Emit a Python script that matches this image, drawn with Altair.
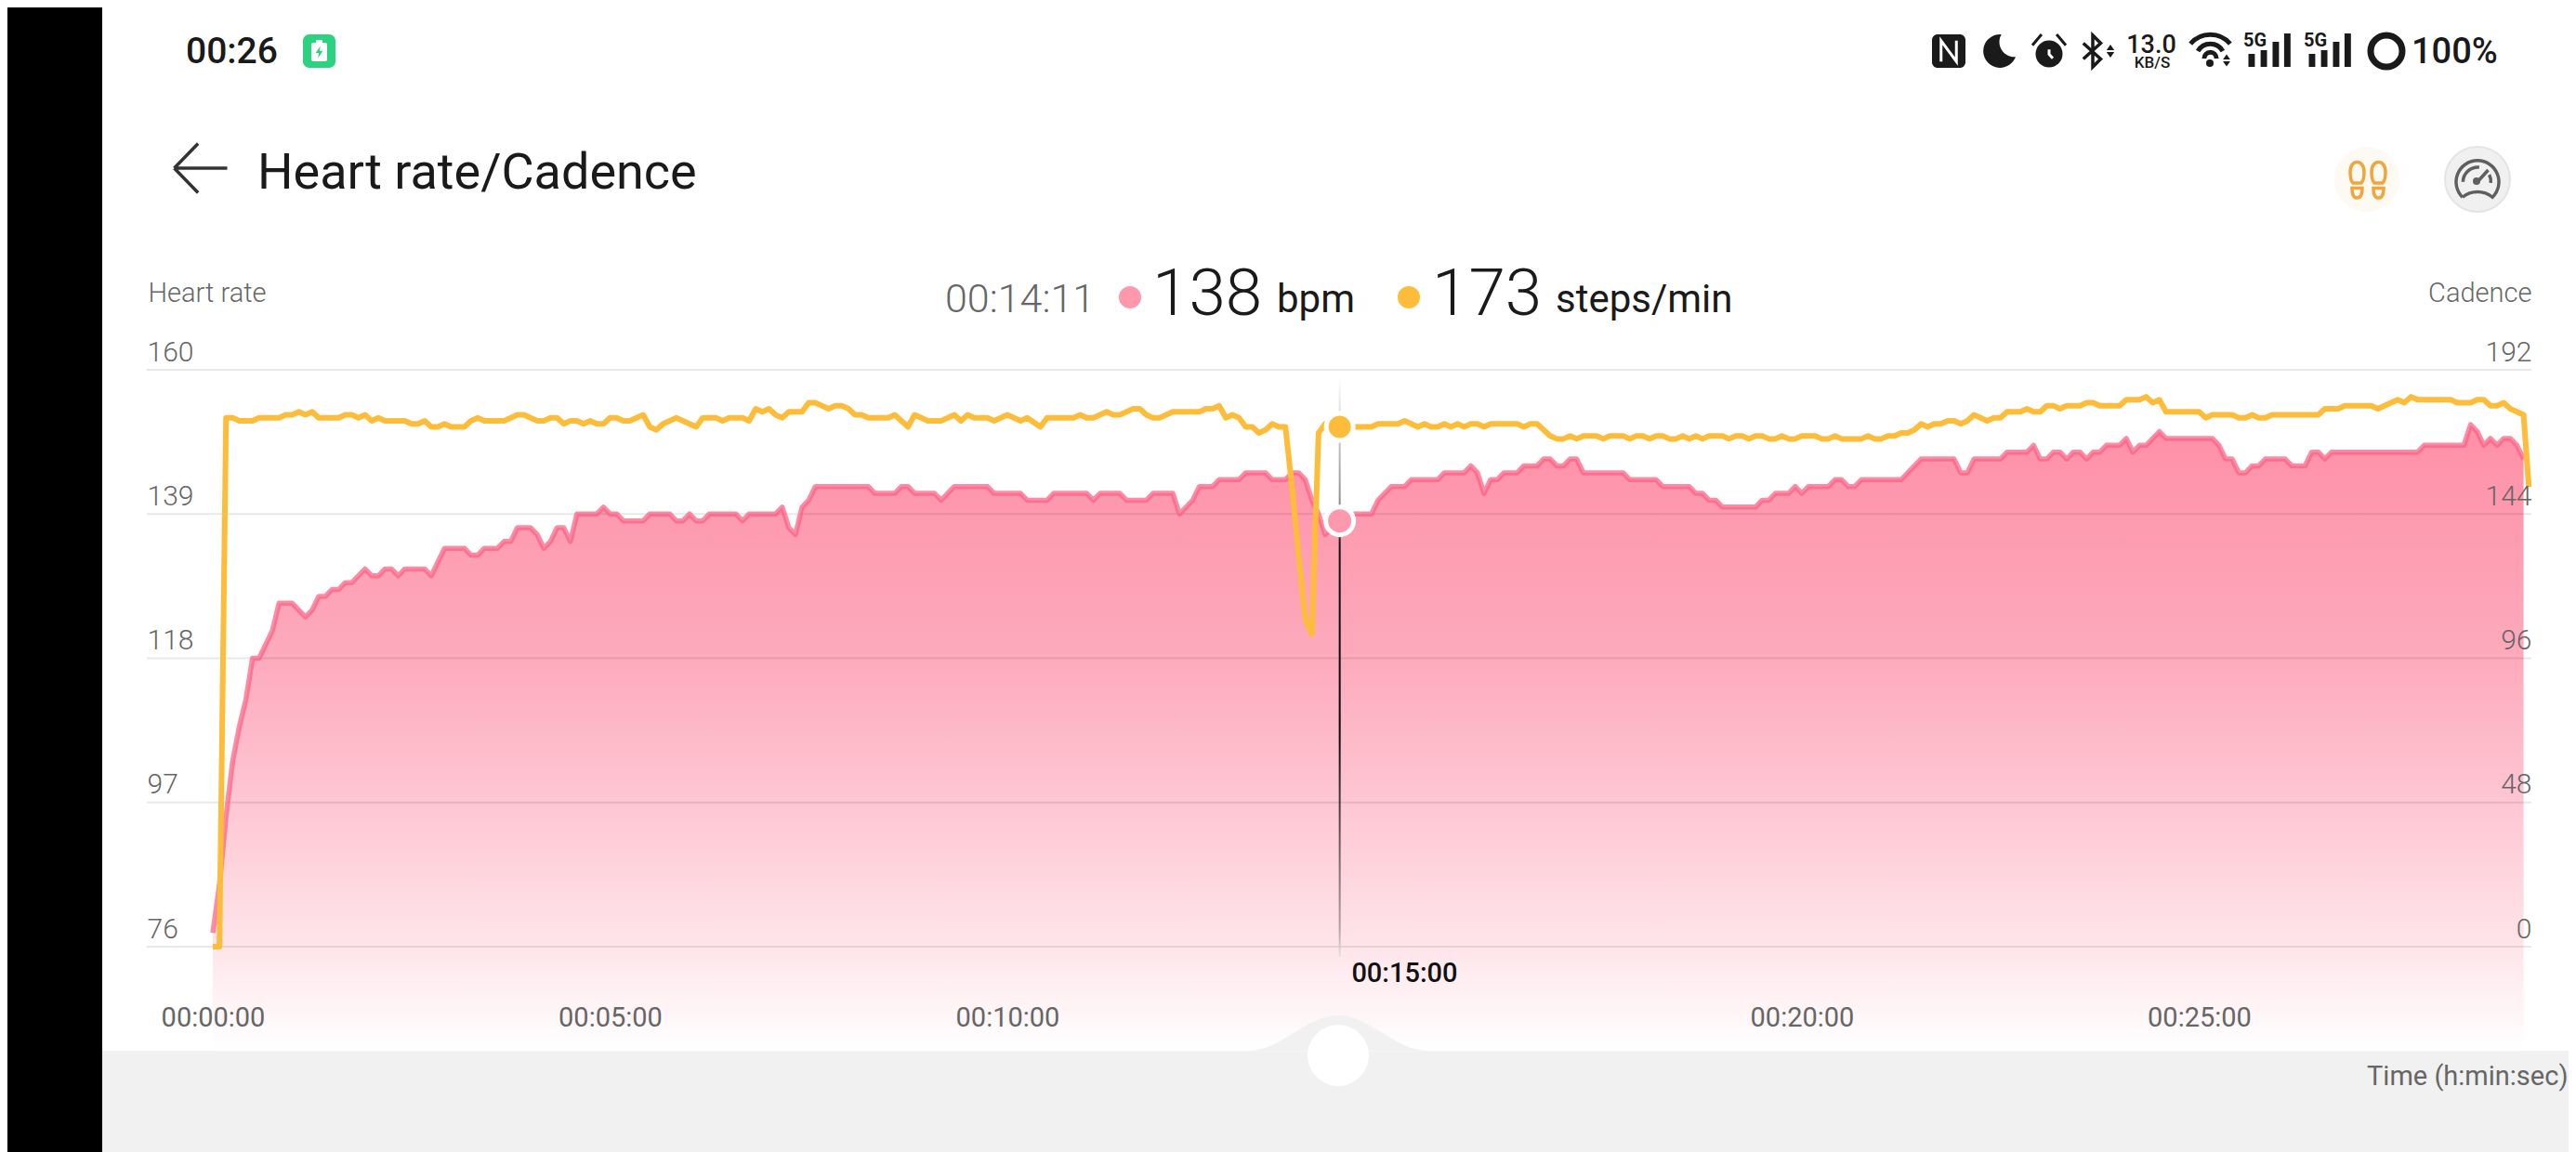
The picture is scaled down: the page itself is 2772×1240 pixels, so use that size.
import altair as alt
import pandas as pd

# (seconds, bpm)
HEART = [(0,78),(5,85),(10,95),(15,103),(20,108),(25,112),(30,118),(35,118),(45,122),(50,126),(60,126),(70,124),(75,125),(80,127),(85,127),(90,128),(95,128),(100,129),(105,129),(115,131),(120,130),(125,130),(130,131),(135,131),(140,130),(145,131),(160,131),(165,130),(175,134),(190,134),(195,133),(200,133),(205,134),(215,134),(220,135),(225,135),(230,137),(240,137),(245,136),(250,134),(255,135),(260,137),(265,137),(270,135),(275,139),(290,139),(295,140),(300,139),(305,139),(310,138),(325,138),(330,139),(345,139),(350,138),(355,138),(360,139),(365,138),(370,138),(375,139),(395,139),(400,138),(405,139),(425,139),(430,140),(435,137),(440,136),(445,140),(450,141),(455,143),(495,143),(500,142),(515,142),(520,143),(525,143),(530,142),(545,142),(550,141),(560,143),(585,143),(590,142),(610,142),(615,141),(630,141),(635,142),(660,142),(665,141),(670,142),(685,142),(690,141),(705,141),(710,142),(725,142),(730,139),(735,140),(740,141),(745,143),(755,143),(760,144),(775,144),(780,145),(795,145),(800,144),(810,144),(815,145),(820,145),(825,144),(830,141),(835,139),(840,136),(845,137),(850,138),(855,139),(875,139),(880,141),(890,143),(900,143),(905,144),(925,144),(930,145),(945,145),(950,146),(955,145),(960,142),(965,144),(970,144),(975,145),(985,145),(990,146),(1000,146),(1005,147),(1010,147),(1015,146),(1020,146),(1025,147),(1030,147),(1035,145),(1065,145),(1070,144),(1090,144),(1095,143),(1115,143),(1120,142),(1125,142),(1130,141),(1135,141),(1140,140),(1165,140),(1170,141),(1175,141),(1180,142),(1190,142),(1195,143),(1200,142),(1205,143),(1220,143),(1225,144),(1230,144),(1235,143),(1240,143),(1245,144),(1275,144),(1290,147),(1315,147),(1320,145),(1325,145),(1330,147),(1350,147),(1355,148),(1370,148),(1375,149),(1380,147),(1385,147),(1390,148),(1395,148),(1400,147),(1405,148),(1410,148),(1415,147),(1420,148),(1425,148),(1430,149),(1440,149),(1445,150),(1450,148),(1455,149),(1460,149),(1470,151),(1475,150),(1510,150),(1515,149),(1520,147),(1525,147),(1530,145),(1535,145),(1540,146),(1545,146),(1550,147),(1565,147),(1570,146),(1580,146),(1585,148),(1590,148),(1595,147),(1600,148),(1665,148),(1670,149),(1700,149),(1705,152),(1710,151),(1715,149),(1720,150),(1725,149),(1730,150),(1735,150),(1740,149),(1745,147)]

# (seconds, steps/min)
CADENCE = [(0,0),(5,0),(10,176),(15,176),(20,175),(30,175),(35,176),(50,176),(55,177),(60,177),(65,178),(70,177),(75,178),(80,176),(95,176),(100,177),(105,177),(110,176),(115,177),(120,175),(125,176),(130,175),(145,175),(150,174),(155,174),(160,175),(165,173),(170,173),(175,174),(180,173),(190,173),(195,175),(200,176),(205,175),(220,175),(230,177),(235,177),(245,175),(250,175),(255,176),(260,176),(265,174),(270,175),(275,175),(280,174),(285,175),(290,174),(295,174),(300,176),(305,176),(310,175),(315,175),(325,177),(330,173),(335,172),(340,174),(350,176),(365,173),(370,176),(380,176),(385,175),(390,176),(400,176),(405,175),(410,179),(415,178),(420,179),(425,177),(430,176),(435,178),(445,178),(450,181),(455,181),(465,179),(470,180),(475,180),(480,179),(485,177),(490,177),(495,176),(510,176),(515,177),(520,175),(525,173),(530,177),(540,175),(550,175),(560,177),(565,175),(570,177),(575,176),(585,176),(590,175),(600,177),(610,175),(615,176),(625,173),(630,176),(650,176),(655,177),(660,176),(665,176),(675,178),(680,177),(685,177),(695,179),(700,179),(705,177),(710,176),(715,176),(725,178),(745,178),(750,179),(755,179),(760,180),(765,176),(770,177),(775,176),(780,173),(785,173),(790,171),(795,172),(800,174),(805,173),(810,173),(815,153),(820,130),(825,109),(830,104),(835,171),(840,174),(850,173),(870,173),(875,173),(880,174),(895,174),(900,175),(910,173),(915,174),(920,173),(925,173),(930,174),(935,173),(940,174),(945,173),(950,174),(955,174),(960,173),(965,174),(985,174),(990,173),(995,174),(1000,174),(1005,172),(1010,170),(1015,169),(1020,169),(1025,170),(1030,169),(1035,170),(1045,170),(1050,169),(1055,170),(1065,170),(1070,169),(1075,170),(1080,170),(1085,169),(1090,170),(1095,170),(1100,169),(1105,169),(1110,170),(1115,169),(1120,170),(1125,169),(1130,170),(1140,170),(1145,169),(1150,170),(1155,170),(1160,169),(1165,170),(1170,170),(1175,169),(1180,169),(1185,170),(1190,169),(1195,169),(1200,170),(1210,170),(1215,169),(1220,169),(1225,170),(1230,169),(1245,169),(1250,170),(1255,169),(1260,169),(1265,170),(1270,170),(1275,171),(1280,171),(1285,172),(1290,174),(1295,173),(1300,174),(1305,174),(1310,175),(1315,175),(1320,174),(1325,175),(1330,177),(1335,176),(1340,175),(1345,176),(1350,176),(1355,178),(1365,178),(1370,179),(1375,178),(1380,178),(1385,180),(1390,180),(1395,179),(1400,180),(1410,180),(1415,181),(1420,181),(1425,180),(1440,180),(1445,182),(1455,182),(1460,183),(1465,181),(1470,182),(1475,178),(1500,178),(1505,176),(1510,177),(1525,177),(1530,176),(1535,176),(1540,177),(1545,176),(1550,176),(1555,177),(1590,177),(1595,179),(1605,179),(1610,180),(1630,180),(1635,179),(1650,182),(1655,181),(1660,183),(1665,182),(1690,182),(1695,181),(1705,181),(1710,182),(1715,182),(1720,180),(1725,180),(1730,181),(1735,179),(1745,177),(1749,153)]

HEART_TICKS = [76, 97, 118, 139, 160]
CADENCE_TICKS = [0, 48, 96, 144, 192]
TIME_TICKS = [0, 300, 600, 1200, 1500]
AREA_FLOOR_BPM = 60.8
CURSOR_SECONDS = 851
CURSOR_BPM = 138
CURSOR_CADENCE = 173

FONT = "Roboto"
GREY = "#666666"
INK = "#1a1a1a"
PINK = "#fe98ad"
AMBER = "#fdbc3a"
X0, Y0 = 229, 398
W, H = 2486, 621
PAGE_RIGHT = 2764  # the svg may not grow past the page's content box

heart_df = pd.DataFrame(HEART, columns=["t", "bpm"])
heart_df["floor"] = AREA_FLOOR_BPM
cad_df = pd.DataFrame(CADENCE, columns=["t", "spm"])
x_scale = alt.Scale(domain=[0, 1744.6], nice=False)
hr_scale = alt.Scale(domain=[76, 160], nice=False, zero=False)
cad_scale = alt.Scale(domain=[0, 192], nice=False)
ONE = alt.Data(values=[{}])


def X(axis=None):
    return alt.X("t:Q", scale=x_scale, axis=axis)


def text(s, x, y, size, color=INK, weight=400, align="left"):
    return alt.Chart(ONE).mark_text(
        text=s, font=FONT, fontSize=size, color=color, fontWeight=weight,
        align=align, baseline="alphabetic",
    ).encode(x=alt.value(x - X0), y=alt.value(y - Y0))


def box(x1, y1, x2, y2, color, radius=0):
    return alt.Chart(ONE).mark_rect(color=color, cornerRadius=radius, opacity=1).encode(
        x=alt.value(x1 - X0), x2=alt.value(x2 - X0), y=alt.value(y1 - Y0), y2=alt.value(y2 - Y0))


def glyph(path, x, y, w, fill=None, stroke=None, sw=0):
    opts = dict(shape=path, size=w * w, opacity=1, filled=fill is not None)
    if fill is not None:
        opts["fill"] = fill
    if stroke is not None:
        opts["stroke"] = stroke
        opts["strokeWidth"] = sw
    else:
        opts["strokeWidth"] = 0
    return alt.Chart(ONE).mark_point(**opts).encode(x=alt.value(x - X0), y=alt.value(y - Y0))


def dot(x, y, d, fill, stroke=None, sw=0):
    return glyph("circle", x, y, d, fill=fill, stroke=stroke, sw=sw)


gradient = alt.Gradient(
    gradient="linear", x1=1, x2=1, y1=0, y2=1,
    stops=[
        alt.GradientStop(color="#fe8fa7", offset=0),
        alt.GradientStop(color="#fdabbd", offset=0.38),
        alt.GradientStop(color="#fed0da", offset=0.68),
        alt.GradientStop(color="#fee6eb", offset=0.84),
        alt.GradientStop(color="#ffffff", offset=1),
    ],
)

area = alt.Chart(heart_df).mark_area(fill=gradient, opacity=1, clip=False).encode(
    x=X(alt.Axis(
        values=TIME_TICKS, title="Time (h:min:sec)", grid=False, domain=False, ticks=False, tickSize=0,
        labelExpr="'00:' + (datum.value / 60 < 10 ? '0' : '') + (datum.value / 60) + ':00'",
        labelFont=FONT, labelFontSize=29, labelColor=GREY, labelFontWeight=400,
        labelPadding=76, labelBaseline="middle", labelFlush=False, labelOverlap=False,
        titleFont=FONT, titleFontSize=29, titleColor=GREY, titleFontWeight=400,
        titleAlign="right", titleBaseline="alphabetic", titleAnchor="end",
        titleX=2763 - X0, titleY=1167 - 1019, zindex=1,
    )),
    y=alt.Y("bpm:Q", scale=hr_scale, axis=alt.Axis(
        values=HEART_TICKS, title="Heart rate", grid=False, domain=False, ticks=False, tickSize=0,
        labelFont=FONT, labelFontSize=30, labelColor=GREY, labelFontWeight=300,
        labelAlign="left", labelPadding=71, labelOffset=-19, labelBaseline="middle",
        labelFlush=False, labelOverlap=False,
        titleFont=FONT, titleFontSize=29, titleColor=GREY, titleFontWeight=300,
        titleAngle=0, titleAlign="left", titleBaseline="alphabetic",
        titleX=159 - X0, titleY=324 - Y0, zindex=1,
    )),
    y2=alt.Y2("floor:Q"),
)

# cadence axis lives on an otherwise invisible layer
cad_axis = alt.Chart(cad_df).mark_line(opacity=0).encode(
    x=X(),
    y=alt.Y("spm:Q", scale=cad_scale, axis=alt.Axis(
        orient="right", values=CADENCE_TICKS, title="Cadence", grid=False, domain=False,
        ticks=False, tickSize=0,
        labelFont=FONT, labelFontSize=30, labelColor=GREY, labelFontWeight=300,
        labelAlign="right", labelPadding=9, labelOffset=-19, labelBaseline="middle",
        labelFlush=False, labelOverlap=False,
        titleFont=FONT, titleFontSize=29, titleColor=GREY, titleFontWeight=300,
        titleAngle=0, titleAlign="right", titleBaseline="alphabetic",
        titleX=9, titleY=324 - Y0, zindex=1,
    )),
)

grid = alt.Chart(pd.DataFrame({"v": HEART_TICKS})).mark_rule(color="#000000", opacity=0.09, strokeWidth=2).encode(
    y=alt.Y("v:Q", scale=hr_scale, axis=None),
    x=alt.value(158 - X0), x2=alt.value(2724 - X0),
)

heart_line = alt.Chart(heart_df).mark_line(
    color="#fb5f82", opacity=0.72, strokeWidth=5.5, strokeJoin="round", clip=False
).encode(x=X(), y=alt.Y("bpm:Q", scale=hr_scale, axis=None))

cad_line = alt.Chart(cad_df).mark_line(
    color=AMBER, strokeWidth=6, strokeJoin="round", clip=False
).encode(x=X(), y=alt.Y("spm:Q", scale=cad_scale, axis=None))

cursor_fill = alt.Gradient(
    gradient="linear", x1=1, x2=1, y1=0, y2=1,
    stops=[
        alt.GradientStop(color="#ffffff", offset=0),
        alt.GradientStop(color="#d4d4d4", offset=0.08),
        alt.GradientStop(color="#8c8c8c", offset=0.22),
        alt.GradientStop(color="#111111", offset=0.29),
        alt.GradientStop(color="#000000", offset=0.6),
        alt.GradientStop(color="#b0a0a4", offset=0.95),
        alt.GradientStop(color="#e6e0e2", offset=1),
    ],
)
cursor = alt.Chart(pd.DataFrame({"t": [CURSOR_SECONDS - 0.7], "t2": [CURSOR_SECONDS + 0.7], "a": [159], "b": [74.5]})).mark_rect(
    fill=cursor_fill, opacity=1
).encode(
    x=X(), x2="t2:Q",
    y=alt.Y("a:Q", scale=hr_scale, axis=None), y2="b:Q",
)

heart_marker = alt.Chart(pd.DataFrame({"t": [CURSOR_SECONDS], "bpm": [CURSOR_BPM]})).mark_point(
    shape="circle", filled=True, fill=PINK, stroke="#ffffff", strokeWidth=5, size=30 * 30, opacity=1
).encode(x=X(), y=alt.Y("bpm:Q", scale=hr_scale, axis=None))

cad_marker = alt.Chart(pd.DataFrame({"t": [CURSOR_SECONDS], "spm": [CURSOR_CADENCE]})).mark_point(
    shape="circle", filled=True, fill=AMBER, stroke="#ffffff", strokeWidth=5, size=29 * 29, opacity=1
).encode(x=X(), y=alt.Y("spm:Q", scale=cad_scale, axis=None))

cursor_label = alt.Chart(pd.DataFrame({"t": [900]})).mark_text(
    text="00:15:00", font=FONT, fontSize=29, fontWeight=500, color="#111111", align="center", baseline="middle"
).encode(x=X(), y=alt.value(1048 - Y0))

band = box(110, 1131, PAGE_RIGHT, 1240, "#f1f1f1")
bump = glyph("M-1 0C-.65 0-.35-.4 0-.4C.35-.4.65 0 1 0Z", 1440, 1131, 191, fill="#f1f1f1")
knob = dot(1440, 1136, 66, "#ffffff")
black = box(8, 8, 110, 1240, "#000000")

BARS = "M-1 .78V.17H-.7V.78ZM-.43 .78V0H-.13V.78ZM.13 .78V-.39H.43V.78ZM.67 .78V-.78H.97V.78Z"
WIFI = "M-.97 -.27A1.27 1.27 0 0 1 .97 -.27M-.61 .09A.7 .7 0 0 1 .61 .09M-.3 .45A.3 .3 0 0 1 .3 .45"
ARROWS = "M-.6 -.15L0 -1L.6 -.15ZM-.6 .15L0 1L.6 .15Z"

# status bar
status = [
    text("00:26", 200, 68, 39, weight=500),
    box(326, 37, 361, 73, "#2bd27f", 7),
    box(335, 46, 352, 66, "#ffffff", 2),
    box(340, 43, 347, 47, "#ffffff", 1),
    glyph("M.2 -1L-.6 .15H-.05L-.2 1L.6 -.2H.05Z", 343.5, 56, 13, fill="#2bd27f"),
    box(2079, 37, 2115, 73, INK, 6),
    glyph("M-.55 .75V-.75L.55 .75V-.75", 2097, 55, 30, stroke="#ffffff", sw=3),
    glyph("M.15 -1A1 1 0 1 0 1 .35A.9 .9 0 0 1 .15 -1Z", 2151, 55, 36, fill=INK),
    dot(2205, 58, 29, INK),
    glyph("M0 -.6V.05L.5 .6", 2205, 58, 16, stroke="#ffffff", sw=3),
    glyph("M-1 -.35L-.45 -1M1 -.35L.45 -1", 2205, 55, 36, stroke=INK, sw=3),
    glyph("M-.6 -.5L.5 .5L0 1V-1L.5 -.5L-.6 .5", 2252, 55, 34, stroke=INK, sw=3.5),
    glyph(ARROWS, 2271, 55, 14, fill=INK),
    text("13.0", 2315, 57, 27, weight=500, align="center"),
    text("KB/S", 2316, 73, 17, weight=500, align="center"),
    glyph(WIFI, 2378.5, 53, 44, stroke=INK, sw=5),
    dot(2378, 68, 8, INK),
    glyph(ARROWS, 2396, 65, 13, fill=INK),
    text("5G", 2426.5, 50, 20, weight=700, align="center"),
    glyph(BARS, 2442.5, 54, 46, fill=INK),
    text("5G", 2491.5, 50, 20, weight=700, align="center"),
    glyph(BARS, 2507.5, 54, 46, fill=INK),
    dot(2568, 55, 34, "#ffffff", INK, 7),
    text("100%", 2595, 68, 38, weight=500),
]

# app header
FEET = ("M-.95 -.45C-.95 -1.15 -.2 -1.15 -.2 -.45C-.2 -.1 -.3 .1 -.35 .15H-.8C-.85 .1 -.95 -.1 -.95 -.45Z"
        "M-.85 .42H-.3C-.3 .8 -.4 .95 -.58 .95C-.75 .95 -.85 .8 -.85 .42Z"
        "M.2 -.45C.2 -1.15 .95 -1.15 .95 -.45C.95 -.1 .85 .1 .8 .15H.35C.3 .1 .2 -.1 .2 -.45Z"
        "M.3 .42H.85C.85 .8 .75 .95 .58 .95C.4 .95 .3 .8 .3 .42Z")
GAUGE = ("M-.7 .72A1 1 0 1 1 .7 .72A1.1 1.1 0 0 0 -.7 .72"
         "M-.68 0A.7 .7 0 0 1 .08 -.68M.55 -.33A.65 .65 0 0 1 .62 .05M0 0L.5 -.55")
header = [
    glyph("M1 0H-1M-1 0L-.1 -.93M-1 0L-.1 .93", 216, 181, 57, stroke="#333333", sw=3.5),
    text("Heart rate/Cadence", 277, 203, 54),
    dot(2547, 193, 70, "#fdf9f3"),
    glyph(FEET, 2548, 194, 40, stroke="#efa63c", sw=3.5),
    dot(2666, 193, 70, "#f0f0f0", "#e4e4e4", 2),
    glyph(GAUGE, 2666, 195.7, 46, stroke="#5f5f5f", sw=3.5),
    dot(2665, 195, 8, "#5f5f5f"),
]

# readout
readout = [
    text("00:14:11", 1017, 336, 43, GREY, 300),
    dot(1216, 320, 24, PINK),
    text("138", 1240, 339, 71, INK, 300),
    text("bpm", 1374, 336, 42, INK, 400),
    dot(1516, 320, 24, AMBER),
    text("173", 1541, 339, 71, INK, 300),
    text("steps/min", 1674, 336, 42, INK, 400),
]

layers = [
    black, band, area, bump, knob, grid, heart_line, cad_line, cad_axis, cursor,
    heart_marker, cad_marker, cursor_label,
] + status + header + readout

chart = alt.layer(*layers).resolve_scale(y="independent").resolve_axis(x="independent").properties(
    width=W, height=H,
    autosize=alt.AutoSizeParams(type="none"),
    padding={"left": X0 - 8, "top": Y0 - 8, "right": PAGE_RIGHT - X0 - W, "bottom": 1240 - Y0 - H},
    background="#ffffff",
).configure_view(stroke=None)

chart.save("out.html", embed_options={"renderer": "svg", "actions": False})
